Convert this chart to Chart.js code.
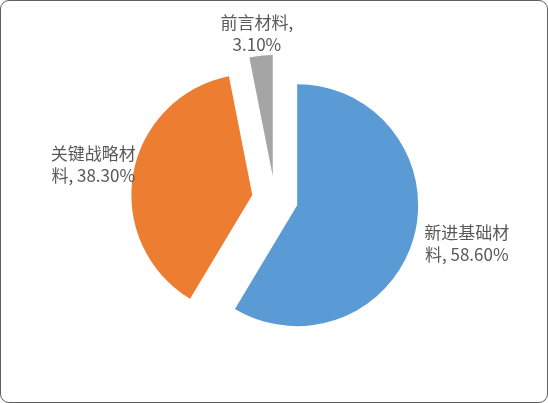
<!DOCTYPE html>
<html>
<head>
<meta charset="utf-8">
<script src="https://cdn.jsdelivr.net/npm/chart.js@4.4.1/dist/chart.umd.min.js"></script>
<style>
  body { margin: 0; background: #fff; }
  #wrap { position: relative; width: 548px; height: 403px; }
  #frame {
    position: absolute; left: 0; top: 0; width: 548px; height: 403px;
    box-sizing: border-box; border: 1.5px solid #5f5f5f; border-radius: 9px;
    pointer-events: none;
  }
</style>
</head>
<body>
<div id="wrap">
  <canvas id="pieChart" width="548" height="403"></canvas>
  <div id="frame"></div>
</div>
<script>
// data
const categories = ['新进基础材料', '关键战略材料', '前言材料'];
const shares = [58.6, 38.3, 3.1];
const sliceColors = ['#5B9BD5', '#ED7D31', '#A5A5A5'];

// every slice pulled out from the centre by this many pixels
const EXPLODE = 23;
// label placement: distance from the slice centre and a small turn (degrees)
const labelDist = [174, 162, 143];
const labelTurn = [-2.6, 1.0, -0.8];

// push each arc away from the centre along its middle angle
const explodePlugin = {
  id: 'explode',
  afterDatasetUpdate(chart, args) {
    args.meta.data.forEach((arc) => {
      const mid = (arc.startAngle + arc.endAngle) / 2;
      arc.x += Math.cos(mid) * EXPLODE;
      arc.y += Math.sin(mid) * EXPLODE;
    });
  }
};

function wrapLabel(ctx, text, maxWidth) {
  // CJK characters break anywhere, latin chunks break at spaces
  const tokens = text.match(/[\u4e00-\u9fff][,，]?|\s*[^\s\u4e00-\u9fff]+/g);
  const lines = [];
  let cur = '';
  tokens.forEach((t) => {
    const next = cur + t;
    if (cur && ctx.measureText(next).width > maxWidth) {
      lines.push(cur);
      cur = t.trim();
    } else {
      cur = next;
    }
  });
  if (cur) lines.push(cur);
  return lines;
}

const labelPlugin = {
  id: 'sliceLabels',
  afterDatasetsDraw(chart) {
    const ctx = chart.ctx;
    const meta = chart.getDatasetMeta(0);
    ctx.save();
    ctx.font = '17px "Noto Sans CJK SC", sans-serif';
    ctx.fillStyle = '#595959';
    ctx.textAlign = 'center';
    ctx.textBaseline = 'middle';
    meta.data.forEach((arc, i) => {
      const ang = (arc.startAngle + arc.endAngle) / 2 + labelTurn[i] * Math.PI / 180;
      const cx = arc.x + Math.cos(ang) * labelDist[i];
      const cy = arc.y + Math.sin(ang) * labelDist[i];
      const text = categories[i] + ', ' + shares[i].toFixed(2) + '%';
      const lines = wrapLabel(ctx, text, 97);
      const lh = 22;
      lines.forEach((line, k) => {
        ctx.fillText(line, cx, cy + (k - (lines.length - 1) / 2) * lh);
      });
    });
    ctx.restore();
  }
};

const ctx = document.getElementById('pieChart').getContext('2d');
const pieChart = new Chart(ctx, {
  type: 'pie',
  data: {
    labels: categories,
    datasets: [{
      data: shares,
      backgroundColor: sliceColors,
      borderWidth: 0
    }]
  },
  options: {
    responsive: false,
    animation: false,
    radius: 121,
    layout: {
      padding: { left: 40, right: 38, top: 20, bottom: 25 }
    },
    plugins: {
      legend: { display: false },
      tooltip: { enabled: false }
    }
  },
  plugins: [explodePlugin, labelPlugin]
});
</script>
</body>
</html>
